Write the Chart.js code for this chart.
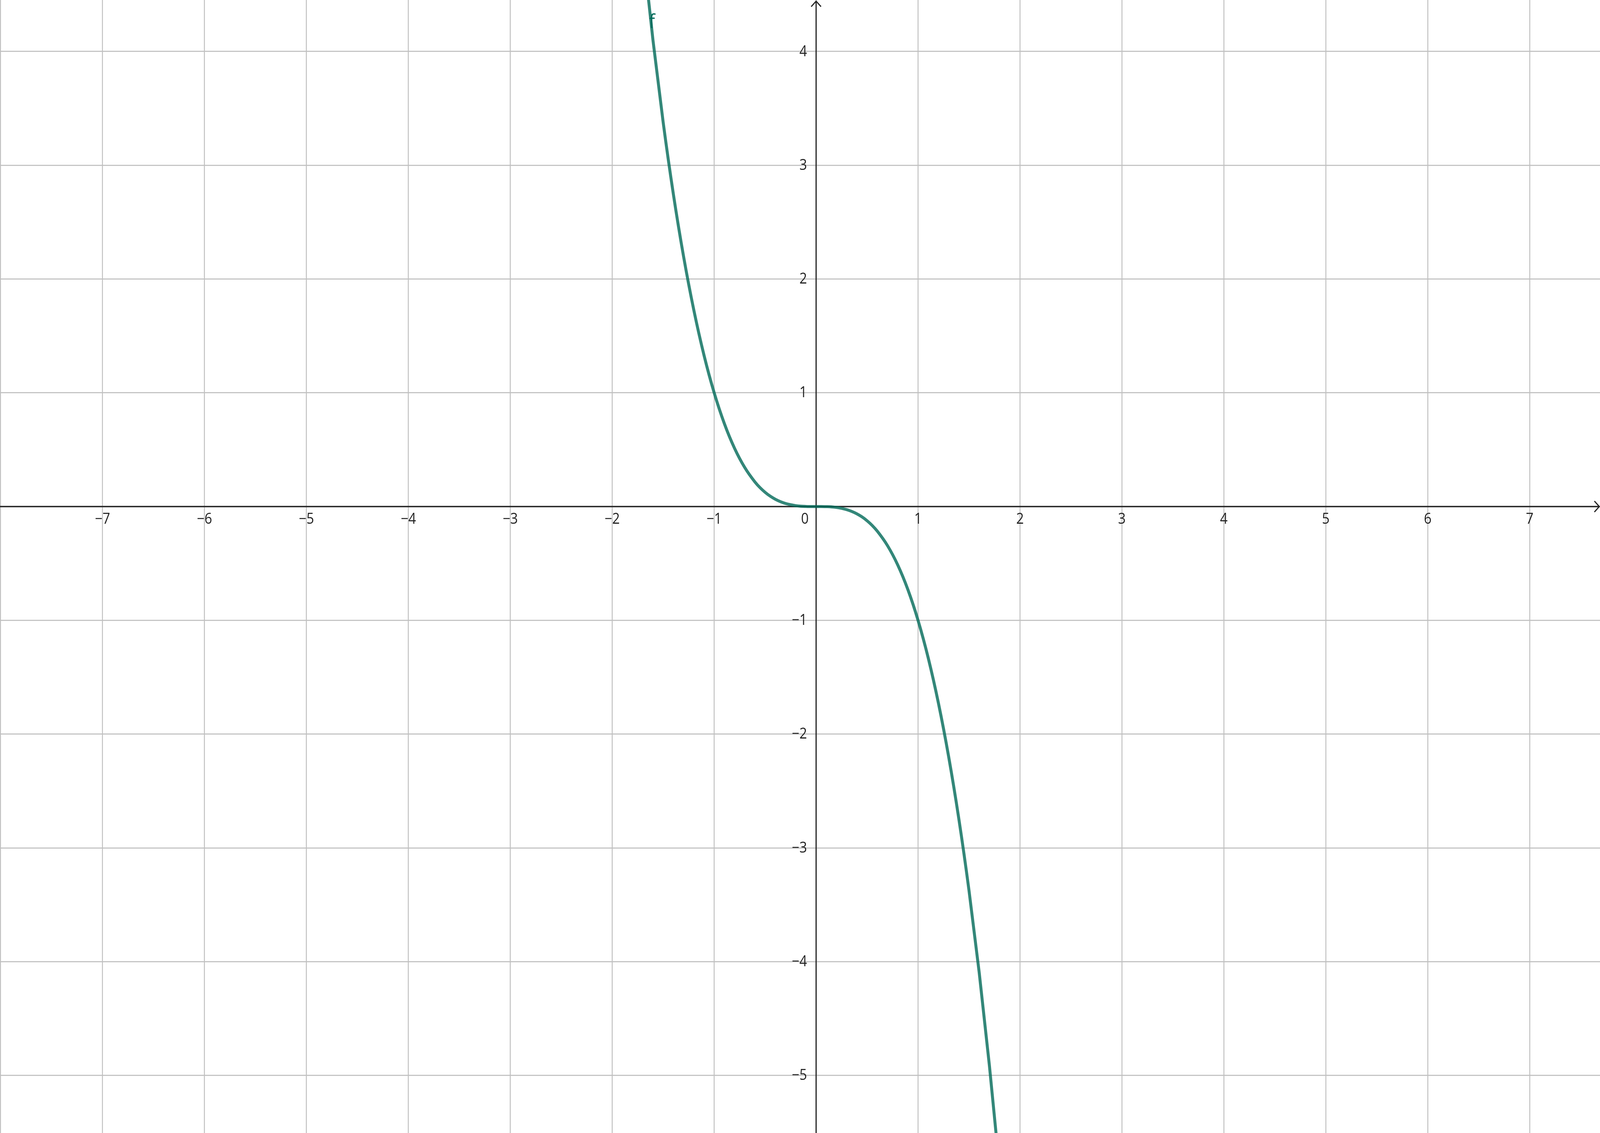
<!DOCTYPE html>
<html>
<head>
<meta charset="utf-8">
<script src="https://cdn.jsdelivr.net/npm/chart.js@4/dist/chart.umd.min.js"></script>
<style>
  html, body { margin: 0; padding: 0; background: #ffffff; overflow: hidden; }
  #wrap { position: absolute; left: 0; top: 0; width: 100vw; height: 100vh; }
</style>
</head>
<body>
<div id="wrap"><canvas id="graph"></canvas></div>
<script>
// ----------------- données -----------------
const xValues = [-1.8, -1.7, -1.6, -1.5, -1.4, -1.3, -1.2, -1.1, -1.0, -0.9, -0.8, -0.7,
  -0.6, -0.55, -0.5, -0.45, -0.4, -0.35, -0.3, -0.25, -0.2, -0.15, -0.1, -0.05,
  0,
  0.05, 0.1, 0.15, 0.2, 0.25, 0.3, 0.35, 0.4, 0.45, 0.5, 0.55, 0.6,
  0.7, 0.8, 0.9, 1.0, 1.1, 1.2, 1.3, 1.4, 1.5, 1.6, 1.7, 1.8];
const fValues = [5.832, 4.913, 4.096, 3.375, 2.744, 2.197, 1.728, 1.331, 1.000, 0.729, 0.512, 0.343,
  0.216, 0.166, 0.125, 0.091, 0.064, 0.043, 0.027, 0.016, 0.008, 0.003, 0.001, 0.000,
  0,
  0.000, -0.001, -0.003, -0.008, -0.016, -0.027, -0.043, -0.064, -0.091, -0.125, -0.166, -0.216,
  -0.343, -0.512, -0.729, -1.000, -1.331, -1.728, -2.197, -2.744, -3.375, -4.096, -4.913, -5.832];

const xTickLabels = [-7, -6, -5, -4, -3, -2, -1, 1, 2, 3, 4, 5, 6, 7];
const yTickLabels = [-5, -4, -3, -2, -1, 1, 2, 3, 4];
const functionName = "f";

// fenêtre visible
const xMin = -8.006, xMax = 7.69;
const yMin = -5.506, yMax = 4.452;

const points = xValues.map((x, i) => ({ x: x, y: fValues[i] }));

// le navigateur plafonne la largeur : on ramène les tailles de la référence (4572 x 2901)
const kx = window.innerWidth / 4572;
const ky = window.innerHeight / 2901;
const pxX = v => v * kx;
const pxY = v => v * ky;

const FONT = '"Open Sans", "DejaVu Sans", sans-serif';
const minus = v => (v < 0 ? "\u2212" + Math.abs(v) : String(v));

// texte dessiné avec la même proportion que la référence
function drawText(ctx, txt, x, y) {
  ctx.save();
  ctx.translate(x, y);
  ctx.scale(kx / ky, 1);
  ctx.fillText(txt, 0, 0);
  ctx.restore();
}

// ----------------- axes, flèches et graduations -----------------
const axesPlugin = {
  id: 'axes',
  beforeDatasetsDraw(chart) {
    const ctx = chart.ctx;
    const sx = chart.scales.x, sy = chart.scales.y;
    const ox = sx.getPixelForValue(0), oy = sy.getPixelForValue(0);
    const a = chart.chartArea;
    ctx.save();
    ctx.strokeStyle = '#252525';
    ctx.lineWidth = pxY(3.4);
    ctx.beginPath();
    ctx.moveTo(a.left, oy); ctx.lineTo(a.right - pxX(2), oy);
    ctx.stroke();
    ctx.lineWidth = pxX(3.4);
    ctx.beginPath();
    ctx.moveTo(ox, a.bottom); ctx.lineTo(ox, a.top + pxY(3));
    ctx.stroke();
    // flèches
    ctx.lineWidth = 3.2 * (kx + ky) / 2;
    ctx.beginPath();
    ctx.moveTo(a.right - pxX(16), oy - pxY(14)); ctx.lineTo(a.right - pxX(2), oy); ctx.lineTo(a.right - pxX(16), oy + pxY(14));
    ctx.moveTo(ox - pxX(14), a.top + pxY(17)); ctx.lineTo(ox, a.top + pxY(3)); ctx.lineTo(ox + pxX(14), a.top + pxY(17));
    ctx.stroke();
    ctx.restore();
  },
  afterDatasetsDraw(chart) {
    const ctx = chart.ctx;
    const sx = chart.scales.x, sy = chart.scales.y;
    const ox = sx.getPixelForValue(0), oy = sy.getPixelForValue(0);
    ctx.save();
    ctx.fillStyle = '#222222';
    ctx.font = pxY(38) + 'px ' + FONT;
    ctx.textBaseline = 'middle';
    ctx.textAlign = 'center';
    xTickLabels.forEach(v => {
      drawText(ctx, minus(v), sx.getPixelForValue(v), oy + pxY(33));
    });
    drawText(ctx, '0', ox - pxX(32), oy + pxY(33));
    ctx.textAlign = 'right';
    yTickLabels.forEach(v => {
      drawText(ctx, minus(v), ox - pxX(26), sy.getPixelForValue(v) + pxY(1));
    });
    // nom de la fonction
    ctx.fillStyle = '#006b5b';
    ctx.font = pxY(50) + 'px ' + FONT;
    ctx.textAlign = 'center';
    ctx.textBaseline = 'alphabetic';
    drawText(ctx, functionName, sx.getPixelForValue(-1.61), sy.getPixelForValue(4.205));
    ctx.restore();
  }
};

const gridScale = (min, max, w) => ({
  type: 'linear',
  min: min,
  max: max,
  display: true,
  ticks: { display: false, stepSize: 1, includeBounds: false },
  grid: { color: '#c0c0c0', lineWidth: w, drawTicks: false },
  border: { display: false }
});

const xScale = gridScale(xMin, xMax, pxX(2.7));
xScale.afterFit = s => { s.height = 0; };
const yScale = gridScale(yMin, yMax, pxY(2.7));
yScale.afterFit = s => { s.width = 0; };

new Chart(document.getElementById('graph').getContext('2d'), {
  type: 'line',
  data: {
    datasets: [{
      label: functionName,
      data: points,
      borderColor: 'rgba(0,105,88,0.8)',
      borderWidth: 8 * (kx + ky) / 2,
      pointRadius: 0,
      fill: false,
      cubicInterpolationMode: 'monotone'
    }]
  },
  options: {
    responsive: true,
    maintainAspectRatio: false,
    animation: false,
    layout: { padding: 0 },
    plugins: { legend: { display: false }, tooltip: { enabled: false } },
    scales: { x: xScale, y: yScale }
  },
  plugins: [axesPlugin]
});
</script>
</body>
</html>
